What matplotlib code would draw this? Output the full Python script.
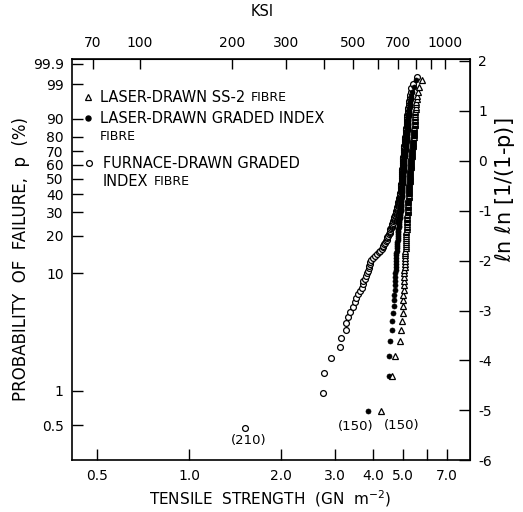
import numpy as np
import matplotlib
matplotlib.use("Agg")
import matplotlib.pyplot as plt
from matplotlib.ticker import FixedLocator, NullLocator

# tensile strength (GN m^-2) of each fibre, in rank order
ss2_laser = [
    4.24, 4.62, 4.72, 4.90, 4.94, 4.98, 5.00, 5.02,
    5.03, 5.03, 5.04, 5.05, 5.05, 5.06, 5.07, 5.07, 5.08, 5.08, 5.09,
    5.09, 5.10, 5.10, 5.10, 5.11, 5.11, 5.12, 5.12, 5.12, 5.13,
    5.13, 5.14, 5.14, 5.14, 5.15, 5.15, 5.15, 5.16, 5.16, 5.17,
    5.17, 5.17, 5.18, 5.18, 5.18, 5.19, 5.19,
    5.19, 5.20, 5.20, 5.20, 5.21, 5.21, 5.21, 5.21, 5.22, 5.22,
    5.22, 5.23, 5.23, 5.23, 5.23, 5.24, 5.24, 5.24, 5.24, 5.25,
    5.25, 5.25, 5.26, 5.26, 5.26, 5.26, 5.27, 5.27, 5.27, 5.27,
    5.28, 5.28, 5.28, 5.29, 5.29, 5.29, 5.29, 5.30, 5.30, 5.30,
    5.30, 5.31, 5.31, 5.31, 5.31, 5.32, 5.32, 5.32, 5.32,
    5.33, 5.33, 5.33, 5.34, 5.34, 5.35, 5.35, 5.35, 5.36, 5.36,
    5.37, 5.37, 5.37, 5.38, 5.38, 5.39, 5.39, 5.39, 5.40, 5.40,
    5.41, 5.41, 5.41, 5.42, 5.42, 5.43, 5.43, 5.43, 5.44, 5.44,
    5.45, 5.45, 5.45, 5.46, 5.46, 5.47, 5.47, 5.47, 5.48, 5.48,
    5.48, 5.49, 5.49, 5.50, 5.50, 5.50,
    5.51, 5.52, 5.53, 5.55, 5.56, 5.58, 5.61, 5.66, 5.78,
]

graded_laser = [
    3.85, 4.51, 4.51, 4.55, 4.60, 4.62, 4.65, 4.67, 4.69, 4.70,
    4.71, 4.71, 4.72, 4.72, 4.73, 4.74, 4.74, 4.75, 4.76,
    4.76, 4.77, 4.77, 4.78, 4.78, 4.79, 4.80, 4.80, 4.81, 4.81,
    4.82, 4.83, 4.83, 4.84, 4.84, 4.85, 4.86, 4.86, 4.87, 4.87,
    4.88, 4.89, 4.89, 4.90, 4.90, 4.91, 4.92,
    4.92, 4.92, 4.93, 4.93, 4.93, 4.94, 4.94, 4.94, 4.95, 4.95,
    4.95, 4.96, 4.96, 4.96, 4.97, 4.97, 4.97, 4.98, 4.98, 4.98,
    4.99, 4.99, 4.99, 4.99, 5.00, 5.00, 5.00, 5.01, 5.01, 5.01,
    5.02, 5.02, 5.02, 5.03, 5.03, 5.03, 5.03, 5.04, 5.04, 5.04,
    5.04, 5.05, 5.05, 5.05, 5.05, 5.05, 5.06, 5.06, 5.06,
    5.06, 5.07, 5.07, 5.07, 5.08, 5.08, 5.09, 5.09, 5.09, 5.10,
    5.10, 5.11, 5.11, 5.11, 5.12, 5.12, 5.13, 5.13, 5.13, 5.14,
    5.14, 5.15, 5.15, 5.15, 5.16, 5.16, 5.17, 5.17, 5.17, 5.18,
    5.18, 5.19, 5.19, 5.19, 5.20, 5.20, 5.21, 5.21, 5.21, 5.22,
    5.22, 5.22, 5.23, 5.23, 5.23, 5.24,
    5.25, 5.27, 5.28, 5.30, 5.31, 5.33, 5.37, 5.43, 5.53,
]

graded_furnace = [
    1.52, 2.75, 2.77, 2.92, 3.12, 3.14, 3.26, 3.27, 3.31, 3.35,
    3.44, 3.49, 3.53, 3.57, 3.63, 3.67, 3.70, 3.72, 3.77, 3.80,
    3.82, 3.85, 3.87, 3.88, 3.90, 3.91, 3.94, 4.00, 4.06, 4.12,
    4.19, 4.23, 4.27, 4.30, 4.31, 4.35, 4.38, 4.40, 4.43, 4.45,
    4.46, 4.48, 4.50, 4.53, 4.55, 4.56, 4.56, 4.58, 4.60, 4.60,
    4.62, 4.63, 4.65, 4.65, 4.67, 4.69, 4.69, 4.70, 4.72, 4.72,
    4.74, 4.74, 4.76, 4.76, 4.78, 4.78, 4.79, 4.79, 4.79, 4.81,
    4.81, 4.83, 4.83, 4.83, 4.85, 4.85, 4.87, 4.87, 4.87, 4.89,
    4.89, 4.89, 4.90, 4.90, 4.90, 4.90, 4.92, 4.92, 4.92, 4.92,
    4.93, 4.93, 4.94, 4.94, 4.94, 4.95, 4.95, 4.95, 4.96, 4.96,
    4.96, 4.96, 4.96, 4.97, 4.97, 4.97, 4.97, 4.97, 4.98, 4.98,
    4.98, 4.98, 4.98, 4.98, 4.99, 4.99, 4.99, 4.99, 4.99, 4.99,
    5.00, 5.00, 5.00, 5.00, 5.00, 5.00, 5.01, 5.01, 5.01, 5.01,
    5.01, 5.01, 5.02,
    5.02, 5.02, 5.03, 5.03, 5.03, 5.03, 5.04, 5.04, 5.04, 5.04,
    5.05, 5.05, 5.05, 5.05, 5.06, 5.06, 5.06, 5.06, 5.06, 5.07,
    5.07, 5.07, 5.07, 5.08, 5.08, 5.08, 5.08, 5.09, 5.09, 5.09,
    5.09, 5.10, 5.10, 5.10, 5.10, 5.11, 5.11,
    5.11, 5.12, 5.12, 5.12, 5.13, 5.13, 5.13, 5.14, 5.14, 5.14,
    5.15, 5.15, 5.15, 5.16, 5.16, 5.16, 5.17, 5.17, 5.17, 5.18,
    5.18, 5.18, 5.18, 5.19, 5.19, 5.19, 5.20,
    5.21, 5.22, 5.23, 5.24, 5.25, 5.26, 5.27, 5.28,
    5.30, 5.31, 5.33, 5.41, 5.57,
]

prob_ticks = [0.5, 1, 10, 20, 30, 40, 50, 60, 70, 80, 90, 99, 99.9]
prob_labels = ["0.5", "1", "10", "20", "30", "40", "50", "60", "70", "80", "90", "99", "99.9"]
lnln_ticks = [-6, -5, -4, -3, -2, -1, 0, 1, 2]
lnln_labels = ["-6", "-5", "-4", "-3", "-2", "-1", "0", "1", "2"]
gn_ticks = [0.5, 1.0, 2.0, 3.0, 4.0, 5.0, 6.0, 7.0]
gn_labels = ["0.5", "1.0", "2.0", "3.0", "4.0", "5.0", "", "7.0"]
ksi_ticks = [70, 100, 200, 300, 400, 500, 600, 700, 800, 900, 1000]
ksi_labels = ["70", "100", "200", "300", "", "500", "", "700", "", "", "1000"]
KSI_PER_GN = 145.04


def lnln(p):
    return np.log(-np.log(1.0 - np.asarray(p)))


def weibull_points(strengths):
    """sorted strengths and their lnln plotting positions i/(n+1)"""
    s = np.sort(np.asarray(strengths))
    n = len(s)
    return s, lnln(np.arange(1, n + 1) / (n + 1))


plt.rcParams["font.family"] = "DejaVu Sans"
fig = plt.figure(figsize=(5.23, 5.12), dpi=100)
ax = fig.add_axes([0.1377, 0.1006, 0.7610, 0.7851])

s_f, y_f = weibull_points(graded_furnace)
s_g, y_g = weibull_points(graded_laser)
s_t, y_t = weibull_points(ss2_laser)

ax.plot(s_f, y_f, "o", ms=4.2, mfc="white", mec="black", mew=0.9, ls="none")
ax.plot(s_g, y_g, "o", ms=3.6, mfc="black", mec="black", mew=0.5, ls="none")
ax.plot(s_t, y_t, "^", ms=5.0, mfc="white", mec="black", mew=0.9, ls="none")

ax.set_xscale("log")
ax.set_xlim(0.4132, 8.31)
ax.set_ylim(-6, 2.04)

ax.xaxis.set_major_locator(FixedLocator(gn_ticks))
ax.xaxis.set_minor_locator(NullLocator())
ax.set_xticklabels(gn_labels)
ax.set_yticks(lnln(np.array(prob_ticks) / 100.0))
ax.set_yticklabels(prob_labels)
ax.tick_params(direction="in", length=8, width=1.0, labelsize=10, pad=6)

for sp in ax.spines.values():
    sp.set_linewidth(1.2)

# right axis: ln ln [1/(1-p)]
ax_r = ax.secondary_yaxis("right")
ax_r.set_yticks(lnln_ticks)
ax_r.set_yticklabels(lnln_labels)
ax_r.tick_params(direction="in", length=8, width=1.0, labelsize=10, pad=6)

# top axis: KSI
ax_t = ax.secondary_xaxis("top", functions=(lambda s: s * KSI_PER_GN, lambda k: k / KSI_PER_GN))
ax_t.xaxis.set_major_locator(FixedLocator(ksi_ticks))
ax_t.xaxis.set_minor_locator(NullLocator())
ax_t.set_xticklabels(ksi_labels)
ax_t.tick_params(direction="in", length=7, width=1.0, labelsize=10, pad=6)

fig.text(0.501, 0.977, "KSI", ha="center", va="center", fontsize=10.5)
fig.text(0.516, 0.026, "TENSILE  STRENGTH  (GN  m$^{-2}$)", ha="center", va="center",
         fontsize=11)
fig.text(0.040, 0.494, "PROBABILITY  OF  FAILURE,  p  (%)", rotation=90,
         ha="center", va="center", fontsize=12)
fig.text(0.9656, 0.629, r"$\ell$n $\ell$n [1/(1-p)]", rotation=90,
         ha="center", va="center", fontsize=15)

# sample sizes next to the weakest fibre of each set
ax.annotate("(210)", xy=(s_f[0], y_f[0]), xytext=(3, -9), textcoords="offset points",
            ha="center", va="center", fontsize=9.5)
ax.annotate("(150)", xy=(s_g[0], y_g[0]), xytext=(-9, -11), textcoords="offset points",
            ha="center", va="center", fontsize=9.5)
ax.annotate("(150)", xy=(s_t[0], y_t[0]), xytext=(15, -10.5), textcoords="offset points",
            ha="center", va="center", fontsize=9.5)

# legend, drawn by hand so FIBRE can be set smaller
tr = ax.transAxes
ax.plot([0.040], [0.904], "^", ms=5.0, mfc="white", mec="black", mew=0.9, transform=tr, clip_on=False)
ax.plot([0.040], [0.852], "o", ms=3.6, mfc="black", mec="black", transform=tr, clip_on=False)
ax.plot([0.043], [0.740], "o", ms=4.2, mfc="white", mec="black", mew=0.9, transform=tr, clip_on=False)

lines = [
    (0.070, 0.904, "LASER-DRAWN SS-2", True),
    (0.070, 0.852, "LASER-DRAWN GRADED INDEX", False),
    (0.070, 0.805, None, True),
    (0.078, 0.740, "FURNACE-DRAWN GRADED", False),
    (0.078, 0.695, "INDEX", True),
]
for x, y, txt, fibre in lines:
    if txt is None:
        ax.text(x, y, "FIBRE", transform=tr, fontsize=9, va="center", ha="left")
        continue
    t = ax.text(x, y, txt, transform=tr, fontsize=10.5, va="center", ha="left")
    if fibre:
        ax.annotate("FIBRE", xy=(1, 0.5), xycoords=t, xytext=(4, 0),
                    textcoords="offset points", fontsize=9, va="center", ha="left")

fig.savefig("out.png", dpi=100)
